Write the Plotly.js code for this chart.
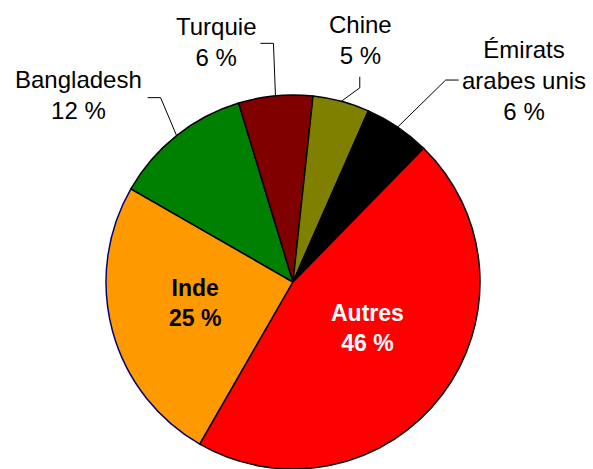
<!DOCTYPE html>
<html><head><meta charset="utf-8">
<script src="https://cdn.plot.ly/plotly-3.0.1.min.js"></script>
<style>html,body{margin:0;padding:0;background:#fff;}#chart{width:593px;height:469px;}</style>
</head><body><div id="chart"></div>
<script>
// ---- data ----
const categories = ['Inde', 'Bangladesh', 'Turquie', 'Chine', 'Émirats arabes unis', 'Autres'];
const labelNames = ['Inde', 'Bangladesh', 'Turquie', 'Chine', 'Émirats<br>arabes unis', 'Autres'];
const shares = [25.0, 12.0, 6.4, 4.9, 5.7, 46.0];
const sliceColors = ['#FF9900', '#008000', '#800000', '#808000', '#000000', '#FF0000'];
const outlineColors = ['#000080', '#000000', '#000000', '#000000', '#000000', '#000000'];

// ---- layout config ----
const W = 593, H = 469;
const M = {l: 0, r: 0, t: 95, b: 0};
const CX = 293;             // pie centre x (px)
const ROTATION = 209.9;     // start angle of first slice, clockwise from 12 o'clock
const plotH = H - M.t - M.b;
const R = plotH / 2;
const CY = M.t + R;

// label placement (px centres) and label styling
const labelStyle = {
  'Inde':       {pos: [195, 303], inside: true,  color: '#000000'},
  'Bangladesh': {pos: [78, 95],   inside: false, leader: [[-16, -38], [-13, 0]]},
  'Turquie':    {pos: [216, 42],  inside: false, leader: [[-2, -52.5], [-13, 0]]},
  'Chine':      {pos: [360, 40],  inside: false, leader: [[18.5, -13.5], [0, -11]]},
  'Émirats arabes unis': {pos: [524, 80], inside: false, leader: [[48, -47], [13, 0]]},
  'Autres':     {pos: [367, 328], inside: true,  color: '#FFFFFF'}
};

const px = x => x / W;
const py = y => (H - M.b - y) / plotH;

const total = shares.reduce((a, b) => a + b, 0);
const annotations = [];
const shapes = [];
let cum = 0;
shares.forEach((v, i) => {
  const name = categories[i];
  const st = labelStyle[name];
  const pct = Math.round(v / total * 100);
  const mid = (ROTATION + (cum + v / 2) / total * 360) * Math.PI / 180;
  cum += v;
  const txt = st.inside ? `<b>${labelNames[i]}<br>${pct} %</b>` : `${labelNames[i]}<br>${pct} %`;
  annotations.push({
    xref: 'paper', yref: 'paper', x: px(st.pos[0]), y: py(st.pos[1]),
    xanchor: 'center', yanchor: 'middle', align: 'center', showarrow: false,
    text: txt,
    font: {family: 'Liberation Sans, Arial, sans-serif', size: st.inside ? 23 : 24, color: st.inside ? st.color : '#000000'}
  });
  if (st.leader) {
    const sx = CX + R * Math.sin(mid), sy = CY - R * Math.cos(mid);
    const ex = sx + st.leader[0][0], ey = sy + st.leader[0][1];
    const fx = ex + st.leader[1][0], fy = ey + st.leader[1][1];
    shapes.push({
      type: 'path', xref: 'paper', yref: 'paper',
      path: `M ${px(sx)} ${py(sy)} L ${px(ex)} ${py(ey)} L ${px(fx)} ${py(fy)}`,
      line: {color: '#000000', width: 1}
    });
  }
});

const trace = {
  type: 'pie',
  labels: categories,
  values: shares,
  sort: false,
  direction: 'clockwise',
  rotation: ROTATION,
  textinfo: 'none',
  hoverinfo: 'none',
  marker: {colors: sliceColors, line: {color: outlineColors, width: 1.5}},
  domain: {x: [(CX - R) / W, (CX + R) / W], y: [0, 1]}
};

Plotly.newPlot('chart', [trace], {
  width: W, height: H,
  margin: M,
  showlegend: false,
  paper_bgcolor: '#FFFFFF',
  plot_bgcolor: '#FFFFFF',
  annotations: annotations,
  shapes: shapes
}, {staticPlot: true, displayModeBar: false});
</script>
</body></html>
